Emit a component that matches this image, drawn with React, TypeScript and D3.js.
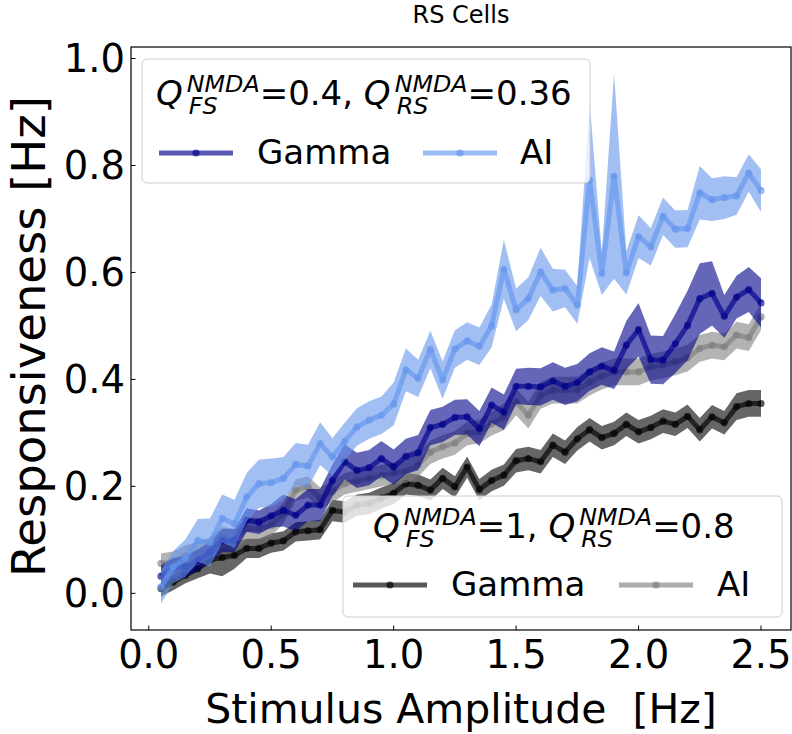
import React from "react";
import * as d3 from "d3";

// ---- data (x = stimulus amplitude, 0.05 .. 2.5 step 0.05) ----
const amplitudes: number[] = Array.from({ length: 50 }, (_, i) => +((i + 1) * 0.05).toFixed(2));

const aiLowQMean = [
  0.012, 0.049, 0.066, 0.099, 0.095, 0.14, 0.13, 0.18, 0.205, 0.207,
  0.215, 0.241, 0.238, 0.28, 0.255, 0.284, 0.311, 0.324, 0.333, 0.354,
  0.418, 0.402, 0.456, 0.399, 0.457, 0.472, 0.462, 0.5, 0.606, 0.53,
  0.551, 0.601, 0.567, 0.57, 0.539, 0.773, 0.598, 0.78, 0.599, 0.667,
  0.648, 0.705, 0.681, 0.682, 0.749, 0.736, 0.74, 0.743, 0.786, 0.753,
];
const aiLowQErr = [
  0.031, 0.03, 0.035, 0.04, 0.045, 0.045, 0.045, 0.045, 0.045, 0.045,
  0.04, 0.04, 0.04, 0.04, 0.035, 0.035, 0.035, 0.035, 0.035, 0.04,
  0.04, 0.035, 0.035, 0.035, 0.035, 0.035, 0.035, 0.04, 0.055, 0.04,
  0.04, 0.045, 0.04, 0.035, 0.035, 0.146, 0.04, 0.192, 0.04, 0.04,
  0.035, 0.035, 0.035, 0.035, 0.05, 0.04, 0.04, 0.035, 0.035, 0.04,
];
const gammaLowQMean = [
  0.032, 0.046, 0.05, 0.062, 0.077, 0.099, 0.099, 0.137, 0.133, 0.145,
  0.155, 0.146, 0.165, 0.165, 0.211, 0.246, 0.23, 0.235, 0.252, 0.236,
  0.256, 0.263, 0.31, 0.316, 0.329, 0.33, 0.308, 0.352, 0.339, 0.387,
  0.387, 0.386, 0.397, 0.387, 0.394, 0.414, 0.425, 0.417, 0.464, 0.493,
  0.437, 0.436, 0.467, 0.501, 0.551, 0.561, 0.518, 0.554, 0.568, 0.543,
];
const gammaLowQErr = [
  0.02, 0.02, 0.02, 0.02, 0.02, 0.022, 0.022, 0.022, 0.022, 0.022,
  0.03, 0.03, 0.03, 0.03, 0.03, 0.033, 0.033, 0.033, 0.033, 0.033,
  0.033, 0.033, 0.033, 0.033, 0.033, 0.033, 0.033, 0.033, 0.033, 0.033,
  0.035, 0.035, 0.035, 0.035, 0.035, 0.035, 0.035, 0.035, 0.045, 0.05,
  0.045, 0.045, 0.055, 0.065, 0.066, 0.06, 0.04, 0.04, 0.042, 0.046,
];
const aiHighQMean = [
  0.056, 0.058, 0.07, 0.075, 0.085, 0.105, 0.1, 0.121, 0.121, 0.127,
  0.15, 0.193, 0.199, 0.178, 0.19, 0.205, 0.21, 0.215, 0.22, 0.225,
  0.228, 0.24, 0.264, 0.274, 0.281, 0.299, 0.302, 0.317, 0.33, 0.358,
  0.333, 0.37, 0.38, 0.38, 0.38, 0.395, 0.406, 0.414, 0.414, 0.414,
  0.423, 0.427, 0.433, 0.44, 0.458, 0.464, 0.461, 0.483, 0.478, 0.517,
];
const aiHighQErr = [
  0.019, 0.02, 0.02, 0.02, 0.02, 0.02, 0.02, 0.02, 0.02, 0.02,
  0.02, 0.02, 0.02, 0.02, 0.02, 0.02, 0.02, 0.02, 0.02, 0.02,
  0.022, 0.022, 0.022, 0.022, 0.022, 0.022, 0.022, 0.022, 0.025, 0.025,
  0.025, 0.025, 0.025, 0.025, 0.025, 0.025, 0.025, 0.025, 0.025, 0.025,
  0.025, 0.025, 0.025, 0.025, 0.025, 0.025, 0.025, 0.025, 0.025, 0.025,
];
const gammaHighQMean = [
  0.009, 0.021, 0.034, 0.046, 0.062, 0.067, 0.071, 0.084, 0.084, 0.094,
  0.098, 0.115, 0.117, 0.119, 0.155, 0.152, 0.165, 0.168, 0.178, 0.187,
  0.205, 0.202, 0.193, 0.215, 0.199, 0.236, 0.194, 0.211, 0.221, 0.248,
  0.252, 0.246, 0.277, 0.264, 0.289, 0.306, 0.291, 0.299, 0.316, 0.302,
  0.31, 0.322, 0.316, 0.331, 0.306, 0.33, 0.319, 0.349, 0.355, 0.355,
];
const gammaHighQErr = [
  0.015, 0.015, 0.015, 0.018, 0.025, 0.035, 0.025, 0.018, 0.018, 0.018,
  0.018, 0.018, 0.018, 0.018, 0.02, 0.02, 0.02, 0.02, 0.02, 0.02,
  0.02, 0.02, 0.02, 0.02, 0.02, 0.02, 0.02, 0.02, 0.02, 0.022,
  0.022, 0.022, 0.022, 0.022, 0.022, 0.022, 0.022, 0.022, 0.022, 0.022,
  0.022, 0.022, 0.022, 0.022, 0.022, 0.022, 0.022, 0.025, 0.025, 0.025,
];

const xTicks = [0, 0.5, 1.0, 1.5, 2.0, 2.5];
const yTicks = [0, 0.2, 0.4, 0.6, 0.8, 1.0];

type Series = { label: string; color: string; mean: number[]; err: number[] };

const highQSeries: Series[] = [
  { label: "Gamma", color: "#000000", mean: gammaHighQMean, err: gammaHighQErr },
  { label: "AI", color: "#808080", mean: aiHighQMean, err: aiHighQErr },
];
const lowQSeries: Series[] = [
  { label: "Gamma", color: "#00008b", mean: gammaLowQMean, err: gammaLowQErr },
  { label: "AI", color: "#6495ed", mean: aiLowQMean, err: aiLowQErr },
];

const lowQTitle = [
  { sub: "FS", value: "0.4, " },
  { sub: "RS", value: "0.36" },
];
const highQTitle = [
  { sub: "FS", value: "1, " },
  { sub: "RS", value: "0.8" },
];

// ---- layout ----
const W = 792;
const H = 734;
const plotL = 131;
const plotR = 791;
const plotT = 47;
const plotB = 630;
const FONT = '"DejaVu Sans", "Liberation Sans", sans-serif';
const LW = 5;
const MR = 3.6;

let measureCtx: CanvasRenderingContext2D | null = null;
function measure(text: string, size: number, italic = false): number {
  if (!measureCtx && typeof document !== "undefined") {
    measureCtx = document.createElement("canvas").getContext("2d");
  }
  if (!measureCtx) return text.length * size * 0.6;
  measureCtx.font = `${italic ? "italic " : ""}${size}px "DejaVu Sans"`;
  return measureCtx.measureText(text).width;
}

const allSeries = [...highQSeries, ...lowQSeries];
const yMinData = d3.min(allSeries.flatMap((s) => s.mean.map((m, i) => m - s.err[i]))) as number;
const yMaxData = d3.max(allSeries.flatMap((s) => s.mean.map((m, i) => m + s.err[i]))) as number;
const xExt = d3.extent(amplitudes) as [number, number];
const xPad = (xExt[1] - xExt[0]) * 0.05;
const yPad = (yMaxData - yMinData) * 0.05;

const x = d3.scaleLinear().domain([xExt[0] - xPad, xExt[1] + xPad]).range([plotL, plotR]);
const y = d3.scaleLinear().domain([yMinData - yPad, yMaxData + yPad]).range([plotB, plotT]);

function SeriesMarks({ s }: { s: Series }) {
  const rows = amplitudes.map((a, i) => ({ a, m: s.mean[i], e: s.err[i] }));
  const area = d3
    .area<{ a: number; m: number; e: number }>()
    .x((d) => x(d.a))
    .y0((d) => y(d.m - d.e))
    .y1((d) => y(d.m + d.e));
  const line = d3
    .line<{ a: number; m: number; e: number }>()
    .x((d) => x(d.a))
    .y((d) => y(d.m));
  return (
    <g>
      <path d={area(rows) || ""} fill={s.color} fillOpacity={0.6} stroke="none" />
      <path d={line(rows) || ""} fill="none" stroke={s.color} strokeOpacity={0.65} strokeWidth={LW} strokeLinejoin="round" />
      {rows.map((d, i) => (
        <circle key={i} cx={x(d.a)} cy={y(d.m)} r={MR} fill={s.color} fillOpacity={0.65} />
      ))}
    </g>
  );
}

function MathTitle({ x0, base, parts, fs }: { x0: number; base: number; parts: { sub: string; value: string }[]; fs: number }) {
  const small = fs * 0.7;
  const els: React.ReactNode[] = [];
  let cx = x0;
  parts.forEach((p, i) => {
    const wQ = measure("Q", fs, true);
    els.push(
      <text key={`q${i}`} x={cx} y={base} fontSize={fs} fontStyle="italic" fontFamily={FONT}>Q</text>
    );
    const sx = cx + wQ + 4;
    els.push(
      <text key={`sp${i}`} x={sx} y={base - 13} fontSize={small} fontStyle="italic" fontFamily={FONT}>NMDA</text>
    );
    els.push(
      <text key={`sb${i}`} x={sx + 2} y={base + 9} fontSize={small} fontStyle="italic" fontFamily={FONT}>{p.sub}</text>
    );
    const w = Math.max(measure("NMDA", small, true), measure(p.sub, small, true) + 2);
    const rx = sx + w;
    const txt = "=" + p.value;
    els.push(
      <text key={`v${i}`} x={rx} y={base} fontSize={fs} fontFamily={FONT} style={{ whiteSpace: "pre" }}>{txt}</text>
    );
    cx = rx + measure(txt, fs);
  });
  return <g>{els}</g>;
}

function Legend({
  box, titleX, titleBase, parts, series, rowY, handles, textXs,
}: {
  box: [number, number, number, number];
  titleX: number;
  titleBase: number;
  parts: { sub: string; value: string }[];
  series: Series[];
  rowY: number;
  handles: number[];
  textXs: number[];
}) {
  const fs = 34;
  const hl = 74;
  return (
    <g>
      <rect x={box[0]} y={box[1]} width={box[2] - box[0]} height={box[3] - box[1]} rx={5} ry={5}
        fill="#ffffff" fillOpacity={0.8} stroke="#cccccc" strokeWidth={1} />
      <MathTitle x0={titleX} base={titleBase} parts={parts} fs={fs} />
      {series.map((s, i) => (
        <g key={i}>
          <line x1={handles[i]} x2={handles[i] + hl} y1={rowY} y2={rowY} stroke={s.color} strokeOpacity={0.65} strokeWidth={LW} />
          <circle cx={handles[i] + hl / 2} cy={rowY} r={MR} fill={s.color} fillOpacity={0.65} />
          <text x={textXs[i]} y={rowY + 11} fontSize={fs} fontFamily={FONT}>{s.label}</text>
        </g>
      ))}
    </g>
  );
}

export default function App() {
  return (
    <svg width={W} height={H} viewBox={`0 0 ${W} ${H}`} style={{ position: "absolute", left: 0, top: 0, background: "#fff" }}>
      <rect x={0} y={0} width={W} height={H} fill="#ffffff" />
      <defs>
        <clipPath id="plotclip">
          <rect x={plotL} y={plotT} width={plotR - plotL} height={plotB - plotT} />
        </clipPath>
      </defs>
      <g clipPath="url(#plotclip)">
        {highQSeries.map((s, i) => <SeriesMarks key={`h${i}`} s={s} />)}
        {lowQSeries.map((s, i) => <SeriesMarks key={`l${i}`} s={s} />)}
      </g>
      {/* frame */}
      <rect x={plotL} y={plotT} width={plotR - plotL} height={plotB - plotT} fill="none" stroke="#000" strokeWidth={1.2} />
      {/* x ticks */}
      {xTicks.map((t) => (
        <g key={`xt${t}`}>
          <line x1={x(t)} x2={x(t)} y1={plotB} y2={plotB - 4.5} stroke="#000" strokeWidth={1} />
          <text x={x(t)} y={668} textAnchor="middle" fontSize={38.5} fontFamily={FONT}>{t.toFixed(1)}</text>
        </g>
      ))}
      {yTicks.map((t) => (
        <g key={`yt${t}`}>
          <line x1={plotL} x2={plotL + 4.5} y1={y(t)} y2={y(t)} stroke="#000" strokeWidth={1} />
          <text x={125} y={y(t)} dy="0.36em" textAnchor="end" fontSize={38.5} fontFamily={FONT}>{t.toFixed(1)}</text>
        </g>
      ))}
      <text x={(plotL + plotR) / 2} y={723} textAnchor="middle" fontSize={41} fontFamily={FONT} style={{ whiteSpace: "pre" }}>
        {"Stimulus Amplitude  [Hz]"}
      </text>
      <text transform={`translate(45, ${(plotT + plotB) / 2 - 2}) rotate(-90)`} textAnchor="middle" fontSize={46.5} fontFamily={FONT}>
        Responsiveness [Hz]
      </text>
      <text x={(plotL + plotR) / 2} y={23} textAnchor="middle" fontSize={24} fontFamily={FONT}>RS Cells</text>
      <Legend
        box={[142, 59, 590, 183]}
        titleX={156}
        titleBase={105}
        parts={lowQTitle}
        series={lowQSeries}
        rowY={153}
        handles={[159, 423]}
        textXs={[257, 520]}
      />
      <Legend
        box={[343, 496, 782, 617]}
        titleX={373}
        titleBase={538}
        parts={highQTitle}
        series={highQSeries}
        rowY={585}
        handles={[353, 619]}
        textXs={[451, 717]}
      />
    </svg>
  );
}
